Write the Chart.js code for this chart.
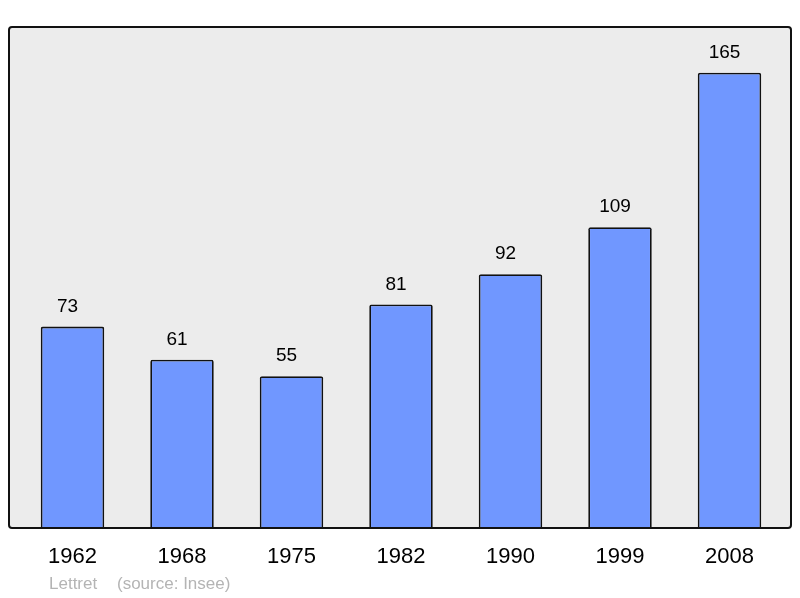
<!DOCTYPE html>
<html>
<head>
<meta charset="utf-8">
<script src="https://cdn.jsdelivr.net/npm/chart.js@4"></script>
<style>
  html, body { margin: 0; padding: 0; background: #fff; }
  #wrap { position: relative; width: 800px; height: 598px; }
  .src { position: absolute; top: 574px; font: 17px "Liberation Sans", Arial, sans-serif; color: #b4b4b4; }
</style>
</head>
<body>
<div id="wrap">
  <canvas id="Chart" width="800" height="598"></canvas>
  <div class="src" style="left:49px">Lettret</div>
  <div class="src" style="left:117px">(source: Insee)</div>
</div>
<script>
const years = ['1962', '1968', '1975', '1982', '1990', '1999', '2008'];
const population = [73, 61, 55, 81, 92, 109, 165];

// grey frame behind the bars, border drawn on top
const frame = {
  id: 'frame',
  beforeDatasetsDraw(chart) {
    const { ctx } = chart;
    ctx.save();
    ctx.beginPath();
    ctx.roundRect(9, 27, 782, 501, 3);
    ctx.fillStyle = '#ececec';
    ctx.fill();
    ctx.restore();
  },
  afterDatasetsDraw(chart) {
    const { ctx } = chart;
    ctx.save();
    ctx.beginPath();
    ctx.roundRect(9, 27, 782, 501, 3);
    ctx.lineWidth = 2;
    ctx.strokeStyle = '#111';
    ctx.stroke();
    ctx.restore();
  }
};

const valueLabels = {
  id: 'valueLabels',
  afterDatasetsDraw(chart) {
    const { ctx } = chart;
    const meta = chart.getDatasetMeta(0);
    ctx.save();
    ctx.font = '19px "Liberation Sans", Arial, sans-serif';
    ctx.fillStyle = '#000';
    ctx.textAlign = 'center';
    ctx.textBaseline = 'alphabetic';
    meta.data.forEach((bar, i) => {
      ctx.fillText(population[i], bar.x - 5, bar.y - 15);
    });
    ctx.restore();
  }
};

const ctx = document.getElementById('Chart').getContext('2d');
new Chart(ctx, {
  type: 'bar',
  data: {
    labels: years,
    datasets: [{
      data: population,
      backgroundColor: '#7097ff',
      borderColor: '#111',
      borderWidth: 1.8,
      borderRadius: 2,
      borderSkipped: 'start',
      barPercentage: 0.58,
      categoryPercentage: 1
    }]
  },
  options: {
    responsive: false,
    animation: false,
    layout: { padding: { left: 17.75, right: 15.75, top: 27, bottom: 0 } },
    plugins: {
      legend: { display: false },
      tooltip: { enabled: false }
    },
    scales: {
      x: {
        grid: { display: false, drawTicks: false },
        border: { display: false },
        ticks: {
          color: '#000',
          padding: 16,
          font: { size: 22, family: '"Liberation Sans", Arial, sans-serif' }
        },
        afterFit(scale) { scale.height = 70; }
      },
      y: {
        display: false,
        min: 0,
        max: 181.6
      }
    }
  },
  plugins: [frame, valueLabels]
});
</script>
</body>
</html>
